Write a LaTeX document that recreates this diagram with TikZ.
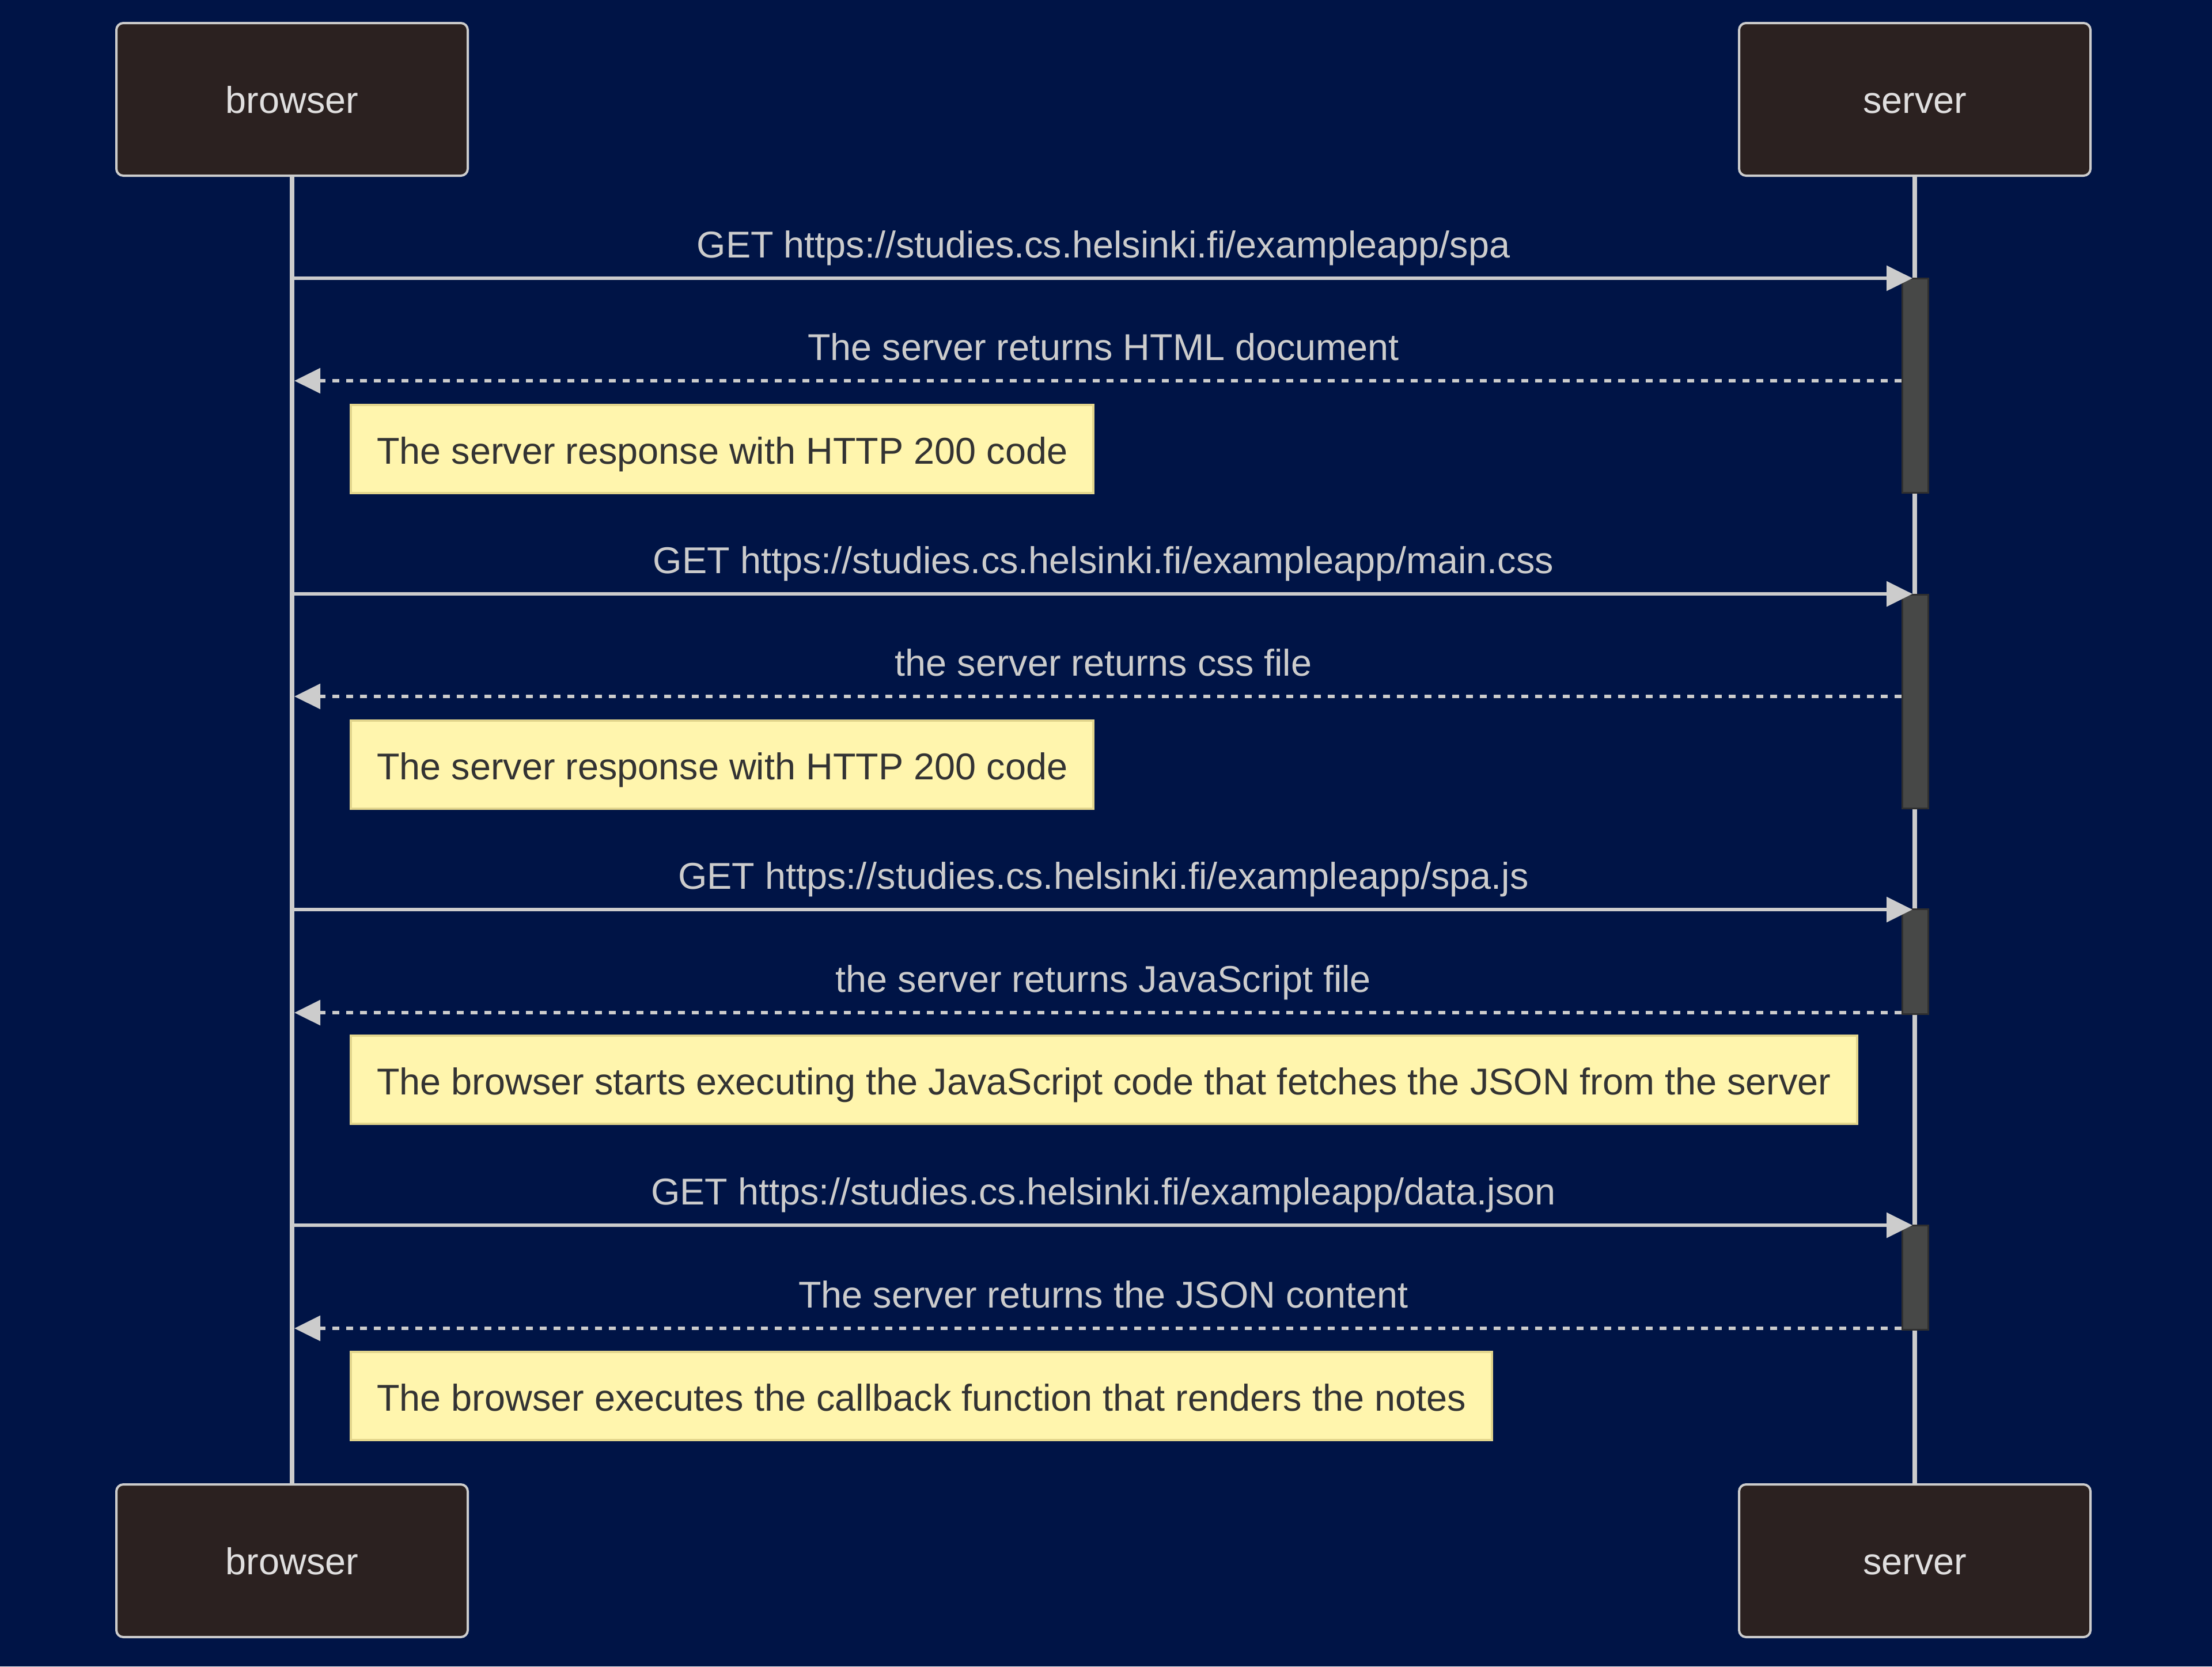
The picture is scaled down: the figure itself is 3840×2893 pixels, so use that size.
\documentclass[tikz,border=0pt]{standalone}
\usepackage{fontspec}
\setmainfont{Liberation Sans}
\usetikzlibrary{arrows.meta}
\definecolor{bgc}{HTML}{001446}
\definecolor{actfillc}{HTML}{2B2120}
\definecolor{linec}{HTML}{CCCCCC}
\definecolor{actortextc}{HTML}{E0DFDF}
\definecolor{notefillc}{HTML}{FFF5AD}
\definecolor{noteedgec}{HTML}{E2D58C}
\definecolor{notetextc}{HTML}{333333}
\definecolor{barfillc}{HTML}{474847}
\definecolor{baredgec}{HTML}{2F2F2F}
\begin{document}
\begin{tikzpicture}[x=0.25pt,y=-0.25pt,
 every node/.style={font=\fontsize{16.2pt}{19pt}\selectfont},
 actor/.style={draw=linec, line width=1pt, fill=actfillc, rounded corners=3pt, minimum width=152.5pt, minimum height=66.25pt, text=actortextc, text height=11.75pt, text depth=0pt, inner sep=0pt},
 lifeline/.style={draw=linec, line width=2pt},
 actbar/.style={draw=baredgec, fill=barfillc, line width=0.75pt, minimum width=11.25pt, inner sep=0pt, anchor=north},
 msg/.style={draw=linec, line width=1.5pt, -{Triangle[length=11.25pt,width=10.75pt]}},
 reply/.style={msg, dash pattern=on 3pt off 3pt},
 lbl/.style={text=linec, anchor=base, inner sep=0pt},
 note/.style={draw=noteedgec, fill=notefillc, line width=1pt, text=notetextc, anchor=north west, minimum height=38.25pt, inner xsep=11.25pt, inner ysep=0pt, text height=13pt, text depth=0pt}
]
\fill[bgc] (0,0) rectangle (3840,2893);
\useasboundingbox (0,0) rectangle (3840,2893);

% actors
\node[actor] (bT) at (507,172.5) {browser};
\node[actor] (sT) at (3324,172.5) {server};
\node[actor] (bB) at (507,2709.5) {browser};
\node[actor] (sB) at (3324,2709.5) {server};

% lifelines
\draw[lifeline] (bT) -- (bB);
\draw[lifeline] (sT) -- (sB);

% activation bars
\node[actbar, minimum height=93pt] (a1) at (3324.5,482) {};
\node[actbar, minimum height=92.75pt] (a2) at (3324.5,1031) {};
\node[actbar, minimum height=45.5pt] (a3) at (3324.5,1577) {};
\node[actbar, minimum height=45.25pt] (a4) at (3324.5,2126) {};

% message end points
\coordinate (m1a) at (511,483);  \coordinate (m1b) at (3320,483);
\coordinate (r1b) at (511,661);
\coordinate (m2a) at (511,1031); \coordinate (m2b) at (3320,1031);
\coordinate (r2b) at (511,1209);
\coordinate (m3a) at (511,1579); \coordinate (m3b) at (3320,1579);
\coordinate (r3b) at (511,1758);
\coordinate (m4a) at (511,2127); \coordinate (m4b) at (3320,2127);
\coordinate (r4b) at (511,2306);

% messages
\draw[msg] (m1a) -- (m1b);
\draw[reply] (a1.west |- r1b) -- (r1b);
\draw[msg] (m2a) -- (m2b);
\draw[reply] (a2.west |- r2b) -- (r2b);
\draw[msg] (m3a) -- (m3b);
\draw[reply] (a3.west |- r3b) -- (r3b);
\draw[msg] (m4a) -- (m4b);
\draw[reply] (a4.west |- r4b) -- (r4b);

% labels
\node[lbl] (t1) at (1915.5,447) {GET https://studies.cs.helsinki.fi/exampleapp/spa};
\node[lbl] (t2) at (1915.5,625) {The server returns HTML document};
\node[lbl] (t3) at (1915.5,995) {GET https://studies.cs.helsinki.fi/exampleapp/main.css};
\node[lbl] (t4) at (1915.5,1173) {the server returns css file};
\node[lbl] (t5) at (1915.5,1543) {GET https://studies.cs.helsinki.fi/exampleapp/spa.js};
\node[lbl] (t6) at (1915.5,1722) {the server returns JavaScript file};
\node[lbl] (t7) at (1915.5,2091) {GET https://studies.cs.helsinki.fi/exampleapp/data.json};
\node[lbl] (t8) at (1915.5,2270) {The server returns the JSON content};

% notes
\node[note] (n1) at (607,701) {The server response with HTTP 200 code};
\node[note] (n2) at (607,1249) {The server response with HTTP 200 code};
\node[note] (n3) at (607,1796) {The browser starts executing the JavaScript code that fetches the JSON from the server};
\node[note] (n4) at (607,2345) {The browser executes the callback function that renders the notes};
\end{tikzpicture}
\end{document}
